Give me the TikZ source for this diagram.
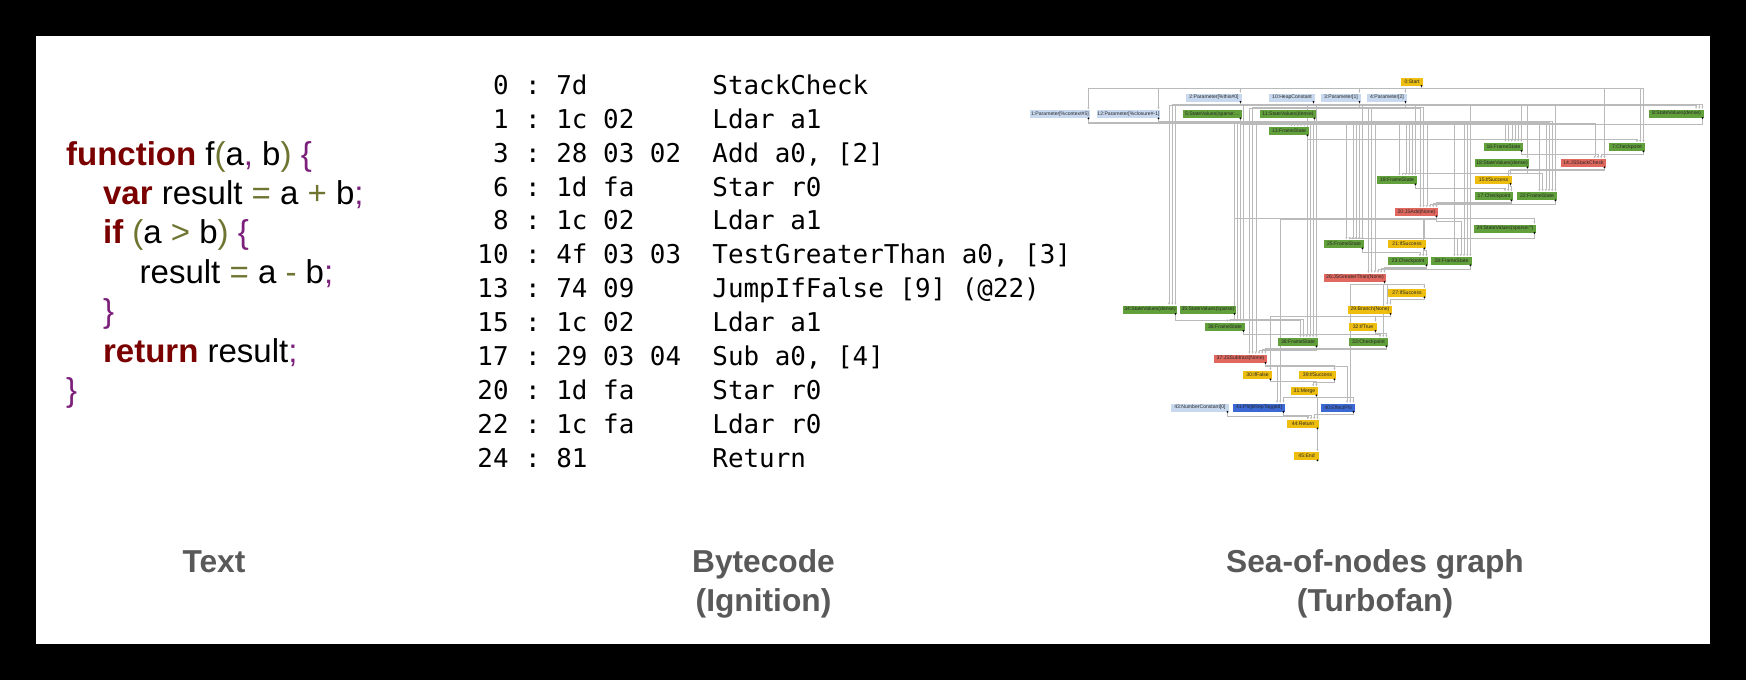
\documentclass[tikz,border=0pt]{standalone}
\usepackage{fontspec}
\setmainfont{Liberation Sans}
\setmonofont{DejaVu Sans Mono}
\usetikzlibrary{arrows.meta}
\pgfdeclarelayer{bg}
\pgfsetlayers{bg,main}
\definecolor{kwred}{HTML}{7A0000}
\definecolor{opolive}{HTML}{6F7431}
\definecolor{brpurple}{HTML}{7B1F7B}
\definecolor{capgray}{HTML}{595959}
\definecolor{pblue}{HTML}{C8D9EF}
\definecolor{pgreen}{HTML}{62A03C}
\definecolor{pred}{HTML}{E0685E}
\definecolor{pyellow}{HTML}{EDBE10}
\definecolor{pdblue}{HTML}{3C68D4}
\newcommand\jskw[1]{\textcolor{kwred}{\bfseries #1}}
\newcommand\jsop[1]{\textcolor{opolive}{#1}}
\newcommand\jsbr[1]{\textcolor{brpurple}{#1}}
\frenchspacing
\begin{document}
\begin{tikzpicture}[x=0.5pt,y=-0.5pt,
    jsline/.style={anchor=base west,inner sep=0,font=\fontsize{16.5}{19.7}\selectfont},
    bc/.style={inner sep=0,font=\ttfamily\fontsize{12.95}{16}\selectfont},
    heading/.style={anchor=base,inner sep=0,text=capgray,font=\bfseries\fontsize{15.85}{19.5}\selectfont},
    sn/.style={fill=#1,inner sep=0.3pt,minimum height=4pt,text=black!85,font=\fontsize{2.55}{2.7}\selectfont},
    wire/.style={draw=black!27,line width=0.28pt,-{Latex[length=1.3pt,width=1.1pt]}}
]
    \begin{pgfonlayer}{bg}
        \fill[black] (0,0) rectangle (1746,680);
        \fill[white] (36,36) rectangle (1710,644);
    \end{pgfonlayer}

    % source text
    \node[jsline] (l1) at (65.7,165) {\jskw{function} f\jsop{(}a\jsbr{,} b\jsop{)} \jsbr{\{}};
    \node[jsline] (l2) at (102.7,204.4) {\jskw{var} result \jsop{=} a \jsop{+} b\jsbr{;}};
    \node[jsline] (l3) at (102.7,243.8) {\jskw{if} \jsop{(}a \jsop{>} b\jsop{)} \jsbr{\{}};
    \node[jsline] (l4) at (139.3,283.2) {result \jsop{=} a \jsop{-} b\jsbr{;}};
    \node[jsline] (l5) at (102.7,322.6) {\jsbr{\}}};
    \node[jsline] (l6) at (102.7,362) {\jskw{return} result\jsbr{;}};
    \node[jsline] (l7) at (65.7,401.4) {\jsbr{\}}};

    % bytecode
    \foreach \off/\hex/\mnem [count=\i from 0] in {0/7d/StackCheck, 1/1c 02/Ldar a1,
        3/28 03 02/{Add a0, [2]}, 6/1d fa/Star r0, 8/1c 02/Ldar a1,
        10/4f 03 03/{TestGreaterThan a0, [3]}, 13/74 09/JumpIfFalse [9] (@22),
        15/1c 02/Ldar a1, 17/29 03 04/{Sub a0, [4]}, 20/1d fa/Star r0,
        22/1c fa/Ldar r0, 24/81/Return}{
        \node[bc,anchor=base east] (off\i) at (509,{94.3+33.9*\i}) {\off};
        \node[bc,anchor=base west] (col\i) at (524.8,{94.3+33.9*\i}) {:};
        \node[bc,anchor=base west] (hex\i) at (556,{94.3+33.9*\i}) {\hex};
        \node[bc,anchor=base west] (mnem\i) at (712,{94.3+33.9*\i}) {\mnem};
    }

    % sea of nodes
    \foreach \id/\px/\py/\nw/\col/\txt in {
        0/1412/81.5/22/pyellow/0:Start,
        1/1060/114/60/pblue/1:Parameter[\%context\#5],
        12/1128.5/114/63/pblue/12:Parameter[\%closure\#-1],
        2/1214/97.5/56/pblue/2:Parameter[\%this\#0],
        10/1292/97.5/46/pblue/10:HeapConstant,
        3/1341/97.5/40/pblue/3:Parameter[1],
        4/1387/97.5/40/pblue/4:Parameter[2],
        5/1212.5/114/59/pgreen/5:StateValues(sparse:\ldots,
        11/1288/114/56/pgreen/11:StateValues(dense),
        8/1676.5/113.5/55/pgreen/8:StateValues(dense),
        13/1289/131/40/pgreen/13:FrameState,
        16/1503.5/146.5/39/pgreen/16:FrameState,
        7/1627/147/36/pgreen/7:Checkpoint,
        18/1502/163/54/pgreen/18:StateValues(dense),
        14/1583.5/163/45/pred/14:JSStackCheck,
        19/1397/180/40/pgreen/19:FrameState,
        15/1493.5/179.5/37/pyellow/15:IfSuccess,
        17/1494/196/38/pgreen/17:Checkpoint,
        22/1537/196/40/pgreen/22:FrameState,
        20/1416.5/212/43/pred/20:JSAdd(None),
        24/1505/228.5/62/pgreen/24:StateValues(sparse:\textasciicircum),
        25/1344/244/40/pgreen/25:FrameState,
        21/1407/244/38/pyellow/21:IfSuccess,
        23/1408/261/40/pgreen/23:Checkpoint,
        28/1451.5/261/41/pgreen/28:FrameState,
        26/1355/277.5/62/pred/26:JSGreaterThan(None),
        27/1407/293/38/pyellow/27:IfSuccess,
        29/1370/309.5/44/pyellow/29:Branch(None),
        34/1150/309.5/54/pgreen/34:StateValues(dense),
        35/1208/309.5/56/pgreen/35:StateValues(sparse),
        36/1225/326.5/40/pgreen/36:FrameState,
        32/1363/326.5/28/pyellow/32:IfTrue,
        38/1298/342/40/pgreen/38:FrameState,
        33/1368.5/342/39/pgreen/33:Checkpoint,
        37/1240.5/358.5/53/pred/37:JSSubtract(None),
        30/1257.5/375/29/pyellow/30:IfFalse,
        39/1317.5/375/37/pyellow/39:IfSuccess,
        31/1304.5/391/27/pyellow/31:Merge,
        43/1200/407.5/58/pblue/43:NumberConstant[0],
        41/1259/407.5/52/pdblue/41:Phi[kRepTagged],
        40/1338/407.5/34/pdblue/40:EffectPhi,
        44/1303/424/32/pyellow/44:Return,
        45/1306.5/456/25/pyellow/45:End}{
        \node[sn=\col,minimum width=\nw*0.5pt] (n\id) at (\px,\py) {\txt};
        \fill ([xshift=-1pt]n\id.south east) circle (0.5pt);
    }

    \begin{pgfonlayer}{bg}
    \foreach \src/\dst/\k in {0/1/1, 0/12/1, 0/2/1, 0/3/1, 0/4/1,
        2/8/3, 3/8/2, 4/8/1,
        8/13/6, 5/13/5, 11/13/4, 1/13/3, 12/13/2, 10/13/1,
        13/7/3, 0/7/2, 0/7/1,
        8/16/6, 5/16/5, 11/16/4, 1/16/3, 12/16/2, 10/16/1,
        1/14/4, 16/14/3, 7/14/2, 0/14/1,
        10/18/1, 14/15/1,
        8/19/6, 18/19/5, 11/19/4, 1/19/3, 12/19/2, 10/19/1,
        19/17/3, 14/17/2, 15/17/1,
        8/22/6, 18/22/5, 11/22/4, 1/22/3, 12/22/2, 10/22/1,
        3/20/6, 4/20/5, 1/20/4, 22/20/3, 17/20/2, 17/20/1,
        20/24/1,
        8/25/6, 24/25/5, 11/25/4, 1/25/3, 12/25/2, 10/25/1,
        20/21/1,
        25/23/3, 20/23/2, 21/23/1,
        8/28/6, 24/28/5, 20/28/4, 1/28/3, 12/28/2, 10/28/1,
        3/26/6, 4/26/5, 1/26/4, 28/26/3, 23/26/2, 23/26/1,
        26/27/1, 26/29/2, 27/29/1, 29/32/1, 29/30/1,
        2/34/3, 3/34/2, 4/34/1, 20/35/1,
        34/36/6, 35/36/5, 11/36/4, 1/36/3, 12/36/2, 10/36/1,
        34/38/6, 35/38/5, 11/38/4, 1/38/3, 12/38/2, 10/38/1,
        36/33/3, 26/33/2, 32/33/1,
        3/37/6, 4/37/5, 1/37/4, 38/37/3, 33/37/2, 33/37/1,
        37/39/1, 39/31/2, 30/31/1,
        37/41/3, 20/41/2, 31/41/1,
        37/40/3, 26/40/2, 31/40/1,
        43/44/4, 41/44/3, 40/44/2, 31/44/1,
        44/45/1}
        \draw[wire] ([xshift=-1pt]n\src.south east) -- ++(0,{1+0.9*\k})
            -| ([xshift={-1pt-(\k-1)*1.6pt}]n\dst.north east);
    \end{pgfonlayer}

    % captions
    \node[heading] (capText) at (214,572.7) {Text};
    \node[heading] (capBytecode) at (763.5,572.7) {Bytecode};
    \node[heading] (capIgnition) at (763.5,611.7) {(Ignition)};
    \node[heading] (capSea) at (1375,572.7) {Sea-of-nodes graph};
    \node[heading] (capTurbofan) at (1375,611.7) {(Turbofan)};
\end{tikzpicture}
\end{document}
